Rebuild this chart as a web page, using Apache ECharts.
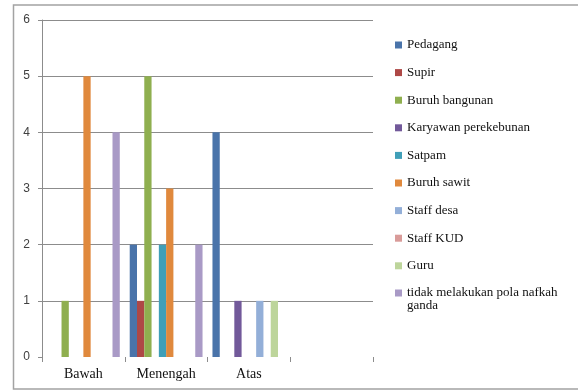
<!DOCTYPE html>
<html>
<head>
<meta charset="utf-8">
<script src="https://cdn.jsdelivr.net/npm/echarts@6/dist/echarts.min.js"></script>
<style>
  html, body { margin: 0; padding: 0; background: #fff; }
  #chart { width: 578px; height: 391px; }
</style>
</head>
<body>
<div id="chart"></div>
<script>
// Income level groups (the fourth slot is left empty on the axis)
const categories = ['Bawah', 'Menengah', 'Atas', ''];

// Occupation series, in legend order
const seriesNames = [
  'Pedagang', 'Supir', 'Buruh bangunan', 'Karyawan perekebunan', 'Satpam',
  'Buruh sawit', 'Staff desa', 'Staff KUD', 'Guru',
  'tidak melakukan pola nafkah ganda'
];

// Counts per group: Bawah, Menengah, Atas
const pedagang      = [0, 2, 4];
const supir         = [0, 1, 0];
const buruhBangunan = [1, 5, 0];
const karyawan      = [0, 0, 1];
const satpam        = [0, 2, 0];
const buruhSawit    = [5, 3, 0];
const staffDesa     = [0, 0, 1];
const staffKUD      = [0, 0, 0];
const guru          = [0, 0, 1];
const tidakGanda    = [4, 2, 0];

const yTicks = [0, 1, 2, 3, 4, 5, 6];

const values = [pedagang, supir, buruhBangunan, karyawan, satpam,
                buruhSawit, staffDesa, staffKUD, guru, tidakGanda];

const colors = ['#4A74AA', '#AE4846', '#8FAF4F', '#72599A', '#409FB8',
                '#E0893D', '#93AFD8', '#D99B99', '#BDD59B', '#A99AC6'];

const serifFont = '"Liberation Serif", "DejaVu Serif", serif';
const gridGray = '#8c8c8c';

const chart = echarts.init(document.getElementById('chart'), null, { renderer: 'canvas' });

const series = seriesNames.map((name, i) => ({
  name: name,
  type: 'bar',
  data: values[i],
  barGap: '0%',
  barCategoryGap: '12%',
  itemStyle: { color: colors[i] },
  emphasis: { disabled: true },
  animation: false
}));

// The last legend entry wraps onto a second line; an empty leading line
// keeps the marker level with the first line of text.
const lastName = seriesNames[seriesNames.length - 1];

const legendText = {
  fontFamily: serifFont,
  fontSize: 13,
  color: '#111'
};

chart.setOption({
  animation: false,
  color: colors,
  grid: { left: 42, top: 20, right: 205, bottom: 34, containLabel: false },
  xAxis: {
    type: 'category',
    data: categories,
    axisLine: { show: false },
    axisTick: { show: true, length: 5, lineStyle: { color: gridGray } },
    axisLabel: {
      margin: 10,
      fontFamily: serifFont,
      fontSize: 14,
      color: '#111'
    },
    splitLine: { show: false }
  },
  yAxis: {
    type: 'value',
    min: yTicks[0],
    max: yTicks[yTicks.length - 1],
    interval: 1,
    axisLine: { show: true, lineStyle: { color: gridGray } },
    axisTick: { show: true, length: 4, lineStyle: { color: gridGray } },
    axisLabel: {
      margin: 12,
      fontFamily: 'Arial, "Liberation Sans", sans-serif',
      fontSize: 12,
      color: '#404040'
    },
    splitLine: {
      show: true,
      lineStyle: {
        color: yTicks.map((t, i) => (i === 0 ? 'rgba(0,0,0,0)' : gridGray)),
        width: 1
      }
    }
  },
  legend: [
    {
      orient: 'vertical',
      left: 395,
      top: 38,
      padding: 0,
      itemWidth: 7,
      itemHeight: 7,
      itemGap: 13.6,
      icon: 'rect',
      selectedMode: false,
      data: seriesNames.slice(0, seriesNames.length - 1),
      textStyle: Object.assign({ lineHeight: 14 }, legendText)
    },
    {
      orient: 'vertical',
      left: 395,
      top: 274,
      padding: 0,
      itemWidth: 7,
      itemHeight: 7,
      icon: 'rect',
      selectedMode: false,
      data: [lastName],
      formatter: () => '\ntidak melakukan pola nafkah\nganda',
      textStyle: Object.assign({ lineHeight: 12.5 }, legendText)
    }
  ],
  graphic: [
    {
      type: 'rect',
      silent: true,
      shape: { x: 13.5, y: 5, width: 600, height: 384 },
      style: { fill: 'none', stroke: '#a3a3a3', lineWidth: 1.5 }
    }
  ],
  series: series
});
</script>
</body>
</html>
